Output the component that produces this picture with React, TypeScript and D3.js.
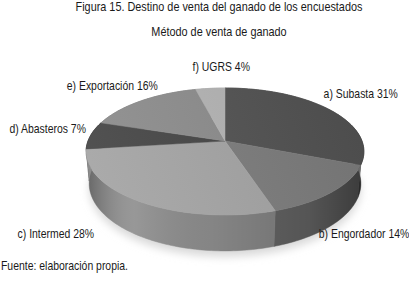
import { useEffect, useRef } from 'react'
import * as d3 from 'd3'

const categories = ['a) Subasta', 'b) Engordador', 'c) Intermed', 'd) Abasteros', 'e) Exportación', 'f) UGRS']
const shares = [31, 14, 28, 7, 16, 4]
const title = 'Figura 15. Destino de venta del ganado de los encuestados'
const subtitle = 'Método de venta de ganado'
const source = 'Fuente: elaboración propia.'

// palette (top face) per slice
const topColors = ['#525252', '#7c7c7c', '#a4a4a4', '#444444', '#8c8c8c', '#b4b4b4']
// label centre offsets from the rim anchor, in px
const labelNudge: [number, number][] = [
  [32, -15],
  [35, 7],
  [-86, -3],
  [-43, -6],
  [-29, -15],
  [11, -21],
]

const W = 409
const H = 286
const FONT = "'Liberation Sans', Arial, sans-serif"
// the original uses a condensed face; squeeze a regular one
const SQUEEZE = 0.87

// camera for the 3d pie
const cam = { cx: 225, cy: 141, f: 740, dist: 5.4, tilt: (26.8 * Math.PI) / 180, depth: 0.265 }

function project(x: number, y: number, z: number): [number, number] {
  const s = Math.sin(cam.tilt)
  const c = Math.cos(cam.tilt)
  const d = cam.dist - y * s - z * c
  const up = y * c - z * s
  return [cam.cx + (cam.f * x) / d, cam.cy - (cam.f * up) / d]
}

// angle clockwise from the back (12 o'clock)
const rim = (a: number, y = 0) => project(Math.sin(a), y, -Math.cos(a))

function arcAngles(a0: number, a1: number) {
  const n = Math.max(2, Math.ceil((a1 - a0) / 0.02))
  return d3.range(n + 1).map((i) => a0 + ((a1 - a0) * i) / n)
}

export default function App() {
  const ref = useRef<SVGSVGElement>(null)

  useEffect(() => {
    if (!ref.current) return
    const svg = d3.select(ref.current)
    svg.selectAll('*').remove()

    const arcs = d3
      .pie<number>()
      .sort(null)
      .startAngle(0)
      .endAngle(2 * Math.PI)(shares)

    const line = d3.line()
    const defs = svg.append('defs')

    const shadow = defs.append('filter').attr('id', 'shadow').attr('x', '-20%').attr('y', '-50%').attr('width', '140%').attr('height', '200%')
    shadow.append('feGaussianBlur').attr('stdDeviation', 4)

    const wallShade = defs.append('linearGradient').attr('id', 'wallShade').attr('gradientUnits', 'userSpaceOnUse')
      .attr('x1', cam.cx - 140).attr('x2', cam.cx + 140).attr('y1', 0).attr('y2', 0)
    wallShade.append('stop').attr('offset', '0%').attr('stop-color', '#000').attr('stop-opacity', 0.3)
    wallShade.append('stop').attr('offset', '18%').attr('stop-color', '#fff').attr('stop-opacity', 0.1)
    wallShade.append('stop').attr('offset', '45%').attr('stop-color', '#000').attr('stop-opacity', 0.05)
    wallShade.append('stop').attr('offset', '80%').attr('stop-color', '#000').attr('stop-opacity', 0.2)
    wallShade.append('stop').attr('offset', '100%').attr('stop-color', '#000').attr('stop-opacity', 0.45)

    const topShade = defs.append('linearGradient').attr('id', 'topShade').attr('gradientUnits', 'userSpaceOnUse')
      .attr('x1', cam.cx - 140).attr('y1', 200).attr('x2', cam.cx + 140).attr('y2', 90)
    topShade.append('stop').attr('offset', '0%').attr('stop-color', '#fff').attr('stop-opacity', 0.08)
    topShade.append('stop').attr('offset', '100%').attr('stop-color', '#000').attr('stop-opacity', 0.08)

    const addText = (
      parent: d3.Selection<any, unknown, null, undefined>,
      x: number,
      y: number,
      size: number,
      anchor: string,
      str: string,
    ) =>
      parent
        .append('text')
        .attr('transform', `translate(${x},${y}) scale(${SQUEEZE},1)`)
        .attr('text-anchor', anchor)
        .attr('font-family', FONT)
        .attr('font-size', size)
        .attr('fill', '#1a1a1a')
        .text(str)

    // titles
    addText(svg, 219, 11, 12.5, 'middle', title)
    addText(svg, 219, 36, 12.5, 'middle', subtitle)
    addText(svg, 1, 270, 12, 'start', source)

    const g = svg.append('g')

    // soft shadow under the pie
    const base = arcAngles(Math.PI / 2, (3 * Math.PI) / 2).map((a) => rim(a, -cam.depth - 0.02))
    g.append('path')
      .attr('d', line(base.map(([x, y]) => [x, y + 3]))! + 'Z')
      .attr('fill', '#d8d8d8')
      .attr('filter', 'url(#shadow)')

    // outer walls, back to front
    const walls = arcs
      .map((d, i) => ({ d, i, z: -Math.cos((d.startAngle + d.endAngle) / 2) }))
      .sort((p, q) => p.z - q.z)
    walls.forEach(({ d, i }) => {
      const angs = arcAngles(d.startAngle, d.endAngle)
      const pts = [...angs.map((a) => rim(a)), ...angs.reverse().map((a) => rim(a, -cam.depth))]
      const col = d3.color(topColors[i])!.darker(0.45).formatHex()
      g.append('path')
        .attr('d', line(pts)! + 'Z')
        .attr('fill', col)
        .attr('stroke', col)
        .attr('stroke-width', 0.5)
    })
    // shading over the whole front wall
    const front = arcAngles(Math.PI / 2 - 0.3, (3 * Math.PI) / 2 + 0.3)
    g.append('path')
      .attr('d', line([...front.map((a) => rim(a)), ...front.slice().reverse().map((a) => rim(a, -cam.depth))])! + 'Z')
      .attr('fill', 'url(#wallShade)')

    // top faces
    arcs.forEach((d, i) => {
      const pts = [project(0, 0, 0), ...arcAngles(d.startAngle, d.endAngle).map((a) => rim(a))]
      g.append('path')
        .attr('d', line(pts)! + 'Z')
        .attr('fill', topColors[i])
        .attr('stroke', topColors[i])
        .attr('stroke-width', 0.5)
    })
    g.append('path')
      .attr('d', line(arcAngles(0, 2 * Math.PI).map((a) => rim(a)))! + 'Z')
      .attr('fill', 'url(#topShade)')

    // slice labels
    arcs.forEach((d, i) => {
      const mid = (d.startAngle + d.endAngle) / 2
      const isFront = -Math.cos(mid) > 0
      const [px, py] = rim(mid, isFront ? -cam.depth : 0)
      addText(g, px + labelNudge[i][0], py + labelNudge[i][1] + 4, 12, 'middle', `${categories[i]} ${shares[i]}%`)
    })
  }, [])

  return (
    <svg ref={ref} width={W} height={H} style={{ position: 'absolute', left: 0, top: 0, background: '#fff' }} />
  )
}
